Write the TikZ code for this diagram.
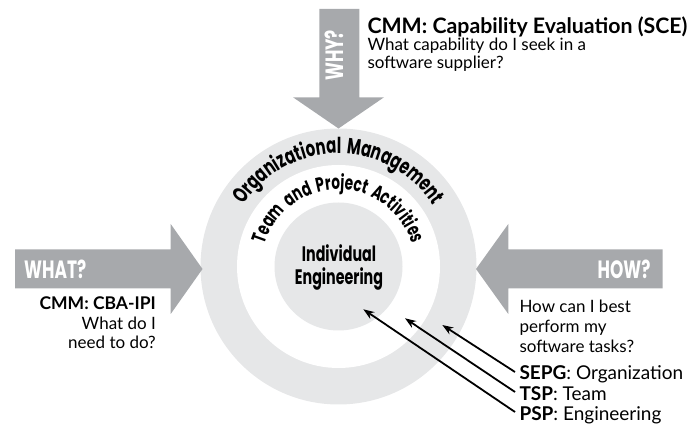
\documentclass[tikz,border=0pt]{standalone}
\usepackage{fontspec}
\setmainfont{Lato}
\newfontfamily\condfont[FakeStretch=0.68, WordSpace=1.6]{Poppins}
\usetikzlibrary{decorations.text,arrows.meta,calc}
\definecolor{ringgray}{HTML}{E6E7E8}
\definecolor{arrowgray}{HTML}{A7A9AC}
\tikzset{
  blockarrow/.style={fill=arrowgray, draw=none},
  arrowlabel/.style={text=white, inner sep=0, font=\condfont\bfseries\fontsize{25}{25}\selectfont},
  corelabel/.style={text=black, inner sep=0, font=\condfont\bfseries\fontsize{21}{21}\selectfont},
  smalltext/.style={inner sep=0, font=\fontsize{17}{18}\selectfont},
  bigtext/.style={inner sep=0, font=\fontsize{19}{22}\selectfont},
  pointer/.style={line width=1.8pt, -{Stealth[length=11pt,width=8pt]}},
}
\begin{document}
\begin{tikzpicture}[x=1pt,y=1pt]
\useasboundingbox (0,0) rectangle (696,428);
\coordinate (C) at (338.5,161.5);
% rings
\fill[ringgray] (C) circle[radius=138];
\fill[white] (C) circle[radius=101.5];
\fill[ringgray] (C) circle[radius=64];
% block arrows
\fill[blockarrow] (319.3,419) -- (359.3,419) -- (359.3,330.7) -- (384,330.7) -- (338.5,299.5) -- (293,330.7) -- (319.3,330.7) -- cycle;
\fill[blockarrow] (15,178.7) -- (170.7,178.7) -- (170.7,204) -- (202.5,159) -- (170.7,114) -- (170.7,139.7) -- (15,139.7) -- cycle;
\fill[blockarrow] (662.7,178.7) -- (508.3,178.7) -- (508.3,204) -- (476,159) -- (508.3,114) -- (508.3,139.7) -- (662.7,139.7) -- cycle;
% arrow labels
\node[arrowlabel, rotate=90, anchor=base west] (why) at (343,347) {WHY?};
\node[arrowlabel, anchor=base west] (what) at (24,149.7) {WHAT?};
\node[arrowlabel, anchor=base east] (how) at (650.7,149.7) {HOW?};
% curved labels
\path[decorate, decoration={text along path, text align=center,
  text={|\condfont\bfseries\fontsize{22}{22}\selectfont|Organizational Management}}]
  ($(C)+(165:113)$) arc[start angle=165, end angle=15, radius=113];
\path[decorate, decoration={text along path, text align=center,
  text={|\condfont\bfseries\fontsize{20}{20}\selectfont|Team and Project Activities}}]
  ($(C)+(175:77)$) arc[start angle=175, end angle=5, radius=77];
\node[corelabel, anchor=base] (indiv) at (339,166.3) {Individual};
\node[corelabel, anchor=base] (eng) at (339,143) {Engineering};
% top-right text
\node[inner sep=0, font=\bfseries\fontsize{21.3}{22}\selectfont, anchor=base west] (sce) at (367.3,394.5) {CMM: Capability Evaluation (SCE)};
\node[smalltext, anchor=base west] (whyA) at (367.3,377.5) {What capability do I seek in a};
\node[smalltext, anchor=base west] (whyB) at (367.3,359.7) {software supplier?};
% left text
\node[inner sep=0, font=\bfseries\fontsize{17.5}{18}\selectfont, anchor=base east] (cba) at (156,118) {CMM: CBA-IPI};
\node[smalltext, anchor=base east] (whatA) at (156,98) {What do I};
\node[smalltext, anchor=base east] (whatB) at (156,79.7) {need to do?};
% right text
\node[smalltext, anchor=base west] (howA) at (519.3,115.3) {How can I best};
\node[smalltext, anchor=base west] (howB) at (519.3,95.6) {perform my};
\node[smalltext, anchor=base west] (howC) at (519.3,75.9) {software tasks?};
\node[bigtext, anchor=base west] (sepg) at (519.3,48) {\textbf{SEPG}: Organization};
\node[bigtext, anchor=base west] (tsp) at (519.3,27.5) {\textbf{TSP}: Team};
\node[bigtext, anchor=base west] (psp) at (519.3,7) {\textbf{PSP}: Engineering};
% pointers
\coordinate (sepgtail) at (515,56);
\coordinate (tsptail) at (515,36);
\coordinate (psptail) at (515,16);
\coordinate (orgtip) at (442.3,103);
\coordinate (teamtip) at (405,109.7);
\coordinate (engtip) at (363.3,118.7);
\draw[pointer] (sepgtail) -- (orgtip);
\draw[pointer] (tsptail) -- (teamtip);
\draw[pointer] (psptail) -- (engtip);
\end{tikzpicture}
\end{document}
